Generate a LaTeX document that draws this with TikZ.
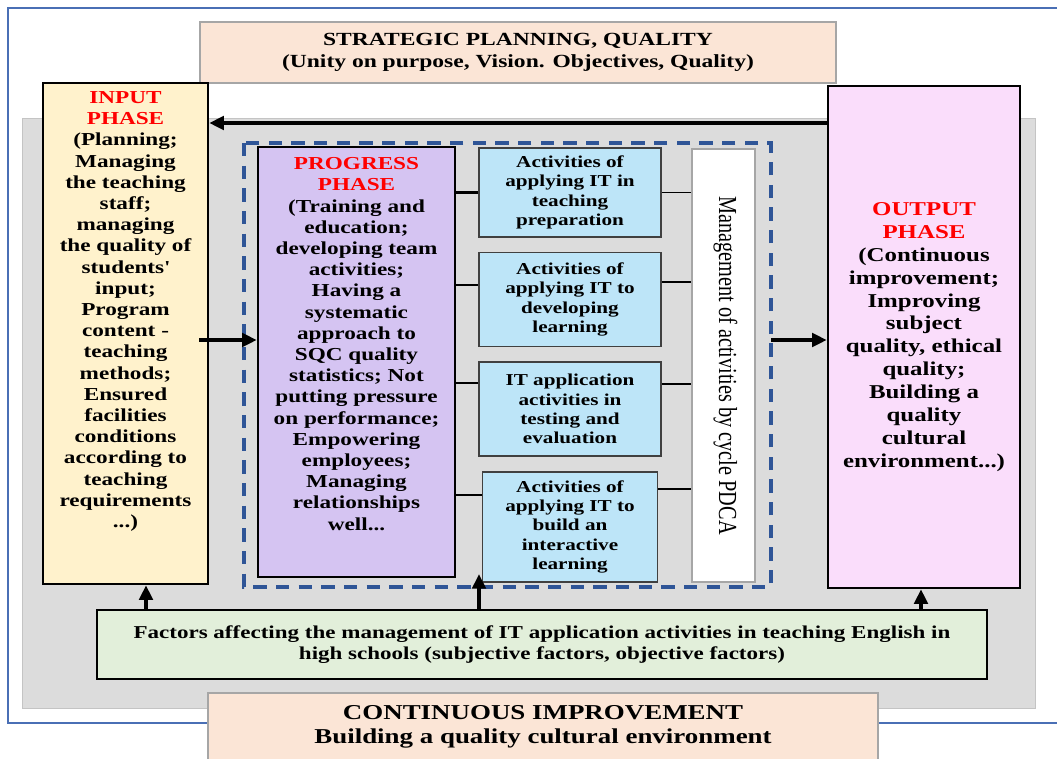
\documentclass[tikz,border=0pt]{standalone}
\usepackage{fontspec}
\setmainfont{Liberation Serif}[FakeStretch=1.27]
\newfontfamily\pdcafont{Liberation Serif}[FakeStretch=0.78]
\usetikzlibrary{positioning, arrows.meta}

\definecolor{peach}{HTML}{FBE5D6}
\definecolor{titleline}{HTML}{A6A6A6}
\definecolor{inyellow}{HTML}{FFF2CC}
\definecolor{proglilac}{HTML}{D5C4F2}
\definecolor{outpink}{HTML}{FADDFB}
\definecolor{actblue}{HTML}{BDE5F8}
\definecolor{actline}{HTML}{404040}
\definecolor{factgreen}{HTML}{E2EFDA}
\definecolor{bggray}{HTML}{DCDCDC}
\definecolor{bgline}{HTML}{C4C4C4}
\definecolor{dashblue}{HTML}{2F5597}
\definecolor{framblue}{HTML}{4A6FB5}
\definecolor{phasered}{HTML}{FF0000}

\begin{document}
\begin{tikzpicture}[
    x=0.75pt, y=-0.75pt,
    node distance = 10.5pt,
    every node/.style = {inner sep=0pt, align=center},
    titlebox/.style  = {rectangle, draw=titleline, line width=0.8pt, fill=peach,
                        font=\bfseries\fontsize{13.9pt}{16.5pt}\selectfont},
    phasebox/.style  = {rectangle, draw, line width=1.8pt},
    phasetext/.style = {font=\bfseries\fontsize{13.7pt}{15.9pt}\selectfont},
    outtext/.style   = {font=\bfseries\fontsize{14.7pt}{17.2pt}\selectfont},
    actbox/.style    = {rectangle, draw=actline, line width=1.2pt, fill=actblue,
                        minimum width=136.5pt,
                        font=\bfseries\fontsize{12.5pt}{14.5pt}\selectfont},
    factbox/.style   = {rectangle, draw, line width=1.8pt, fill=factgreen,
                        font=\bfseries\fontsize{13.6pt}{15.2pt}\selectfont},
    pdcabox/.style   = {rectangle, draw=titleline, line width=0.8pt, fill=white},
    arr/.style       = {-{Triangle[length=11pt,width=10pt]}, line width=3pt},
    link/.style      = {line width=1.1pt}
]
\useasboundingbox (0,0) rectangle (1057,758);
\fill[white] (0,0) rectangle (1057,758);

% frame and grey field
\draw[framblue, line width=0.8pt] (8,8) rectangle (1075,723);
\draw[bgline, fill=bggray, line width=0.6pt] (22,118) rectangle (1035,708);

% strategic planning / continuous improvement
\node[titlebox, minimum width=477pt, minimum height=45.75pt] (plan) at (518,52.5)
    {STRATEGIC PLANNING, QUALITY\\(Unity on purpose, Vision. Objectives, Quality)};
\node[titlebox, minimum width=502.5pt, minimum height=50.25pt,
      font=\bfseries\fontsize{15.9pt}{18pt}\selectfont] (improve) at (543,726.5)
    {CONTINUOUS IMPROVEMENT\\Building a quality cultural environment};

% dashed frame round the progress part
\draw[dashblue, line width=2.6pt, dash pattern=on 10pt off 7pt] (244,143) rectangle (771,587);

% phases
\node[phasebox, fill=inyellow, minimum width=123.75pt, minimum height=375.75pt] (input) at (125.5,333.5) {};
\node[phasetext] (inputtxt) at ([yshift=16.5pt]input.center)
    {\textcolor{phasered}{INPUT}\\ \textcolor{phasered}{PHASE}\\ (Planning;\\ Managing\\ the teaching\\ staff;\\
     managing\\ the quality of\\ students\textquotesingle\\ input;\\ Program\\ content -\\ teaching\\ methods;\\
     Ensured\\ facilities\\ conditions\\ according to\\ teaching\\ requirements\\ ...)};

\node[phasebox, fill=proglilac, minimum width=147.75pt, minimum height=322.5pt] (progress) at (356.5,362) {};
\node[phasetext] (progresstxt) at ([yshift=13.5pt]progress.center)
    {\textcolor{phasered}{PROGRESS}\\ \textcolor{phasered}{PHASE}\\ (Training and\\ education;\\ developing team\\
     activities;\\ Having a\\ systematic\\ approach to\\ SQC quality\\ statistics; Not\\ putting pressure\\
     on performance;\\ Empowering\\ employees;\\ Managing\\ relationships\\ well...};

\node[phasebox, fill=outpink, minimum width=144pt, minimum height=376.5pt, outtext] (output) at (924,337)
    {\textcolor{phasered}{OUTPUT}\\ \textcolor{phasered}{PHASE}\\ (Continuous\\ improvement;\\ Improving\\ subject\\
     quality, ethical\\ quality;\\ Building a\\ quality\\ cultural\\ environment...)};

% IT application activities
\node[actbox, minimum height=66.75pt] (act1) at (570,192.5)
    {Activities of\\ applying IT in\\ teaching\\ preparation};
\node[actbox, minimum height=70.5pt, below=of act1] (act2)
    {Activities of\\ applying IT to\\ developing\\ learning};
\node[actbox, minimum height=70.5pt, below=of act2] (act3)
    {IT application\\ activities in\\ testing and\\ evaluation};
\node[actbox, minimum height=82.5pt, minimum width=131.25pt, below=of act3] (act4)
    {Activities of\\ applying IT to\\ build an\\ interactive\\ learning};

\node[pdcabox, minimum width=47.25pt, minimum height=324.75pt] (pdca) at (723.5,365.5) {};
\node[rotate=-90, font=\pdcafont\fontsize{19.5pt}{22pt}\selectfont] (pdcatxt) at ([xshift=1.5pt]pdca.center)
    {Management of activities by cycle PDCA};

\node[factbox, minimum width=667.5pt, minimum height=51.75pt] (factors) at (542,644.5)
    {Factors affecting the management of IT application activities in teaching English in\\
     high schools (subjective factors, objective factors)};

% connectors
\coordinate (backrow) at (0,123);
\coordinate (midrow)  at (0,340);
\coordinate (instart) at (199,340);
\coordinate (inx)     at (146,0);
\coordinate (outx)    at (921,0);
\coordinate (gaptip)  at (479,574);

\draw[arr] (output.west |- backrow) -- (input.east |- backrow);
\draw[arr] (instart) -- (progress.west |- midrow);
\draw[arr] (771,340) -- (output.west |- midrow);
\draw[arr] (factors.north -| inx) -- (input.south -| inx);
\draw[arr] (factors.north -| gaptip) -- (gaptip);
\draw[arr] (factors.north -| outx) -- (output.south -| outx);

\draw[line width=2.6pt] (progress.east |- act1) -- (act1.west);
\draw[link] (act1.east) -- (pdca.west |- act1);
\foreach \a/\yl/\yr in {act2/285/282, act3/383/384, act4/495/489} {
    \draw[link] (progress.east |- 0,\yl) -- (\a.west |- 0,\yl);
    \draw[link] (\a.east |- 0,\yr) -- (pdca.west |- 0,\yr);
}
\end{tikzpicture}
\end{document}
